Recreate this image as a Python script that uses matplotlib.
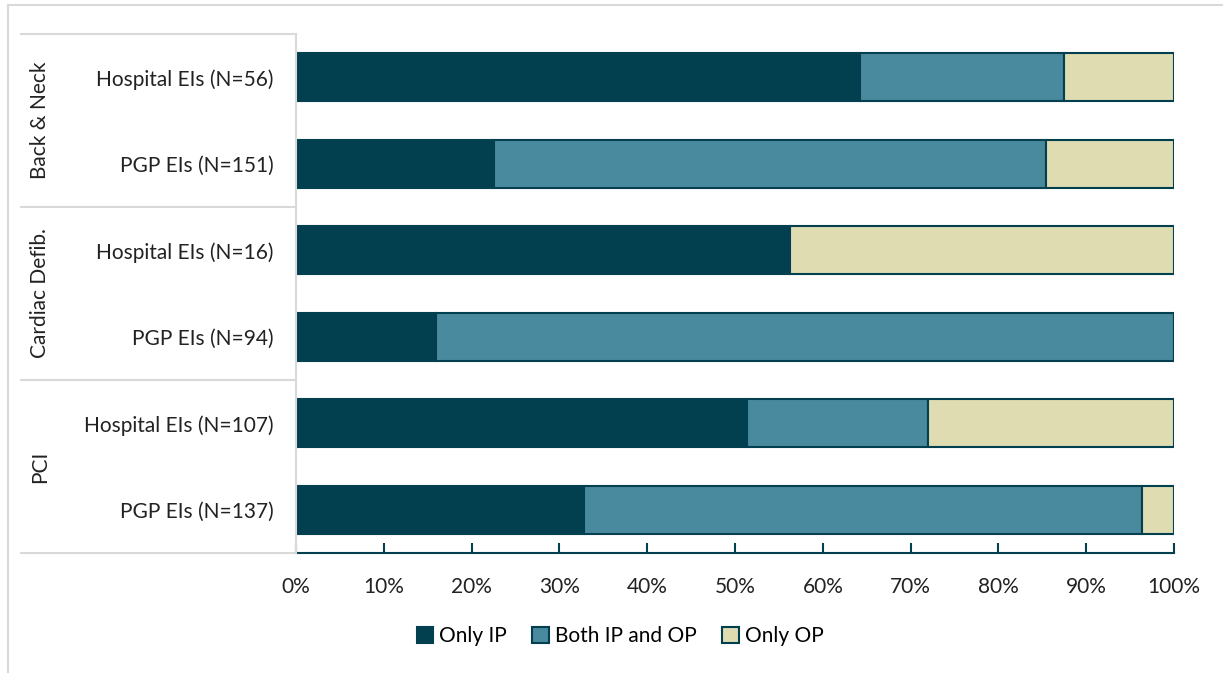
import numpy as np
import matplotlib.pyplot as plt
from matplotlib.lines import Line2D
from matplotlib.patches import Patch

plt.rcParams['font.family'] = ['Lato', 'DejaVu Sans']

groups = ['Back & Neck', 'Cardiac Defib.', 'PCI']
rows = ['Hospital EIs (N=56)', 'PGP EIs (N=151)',
        'Hospital EIs (N=16)', 'PGP EIs (N=94)',
        'Hospital EIs (N=107)', 'PGP EIs (N=137)']
only_ip = [36 / 56, 34 / 151, 9 / 16, 15 / 94, 55 / 107, 45 / 137]
both = [13 / 56, 95 / 151, 0, 79 / 94, 22 / 107, 87 / 137]
only_op = [7 / 56, 22 / 151, 7 / 16, 0, 30 / 107, 5 / 137]

series = ['Only IP', 'Both IP and OP', 'Only OP']
colors = ['#03404f', '#4a8a9e', '#dfdcb2']
edge = '#03404f'
fs = 15

fig = plt.figure(figsize=(12.23, 6.73), dpi=100)
ax = fig.add_axes([0.242, 0.1783, 0.718, 0.7712])

y = np.arange(len(rows))
left = np.zeros(len(rows))
for vals, c in zip([only_ip, both, only_op], colors):
    vals = np.array(vals)
    ax.barh(y, vals, left=left, height=0.555, color=c,
            edgecolor=edge if c != colors[0] else c, linewidth=1.5)
    left += vals

ticks = np.arange(0, 1.01, 0.1)
ax.set_xlim(0, 1)
ax.set_ylim(len(rows) - 0.5, -0.5)
ax.set_xticks(ticks)
ax.set_xticklabels([f'{int(round(t * 100))}%' for t in ticks],
                   fontsize=fs, color='#222222')
ax.tick_params(axis='x', direction='in', length=7, width=1.5, color=edge, pad=17)
ax.tick_params(axis='y', length=0, pad=16)
ax.set_yticks(y)
ax.set_yticklabels(rows, fontsize=fs, color='#222222')

for s in ['top', 'right']:
    ax.spines[s].set_visible(False)
ax.spines['left'].set_color('#d9d9d9')
ax.spines['left'].set_linewidth(1.5)
ax.spines['left'].set_zorder(3)
ax.spines['bottom'].set_color(edge)
ax.spines['bottom'].set_linewidth(1.5)

# group separators and labels on the left
trans = ax.get_yaxis_transform()
x0 = (21 / 1223 - 0.242) / 0.718
for yy in [-0.5, 1.5, 3.5, 5.5]:
    ax.add_line(Line2D([x0, 0], [yy, yy], transform=trans, color='#d9d9d9',
                       lw=1.5, clip_on=False))
xg = (40 / 1223 - 0.242) / 0.718
for i, g in enumerate(groups):
    ax.text(xg, 2 * i + 0.5, g, transform=trans, rotation=90, ha='center',
            va='center', fontsize=fs, color='#222222')

# outer chart frame
fig.add_artist(Line2D([8 / 1223, 8 / 1223], [0, 1 - 5 / 673], color='#d9d9d9', lw=1.5))
fig.add_artist(Line2D([8 / 1223, 1], [1 - 5 / 673, 1 - 5 / 673], color='#d9d9d9', lw=1.5))

handles = [Patch(facecolor=c, edgecolor=edge, linewidth=1.5) for c in colors]
fig.legend(handles, series, loc='center', bbox_to_anchor=(0.507, 1 - 636 / 673),
           ncol=3, frameon=False, fontsize=fs, handlelength=0.8, handleheight=0.8,
           handletextpad=0.3, columnspacing=1.2)

fig.savefig('out.png', dpi=100)
